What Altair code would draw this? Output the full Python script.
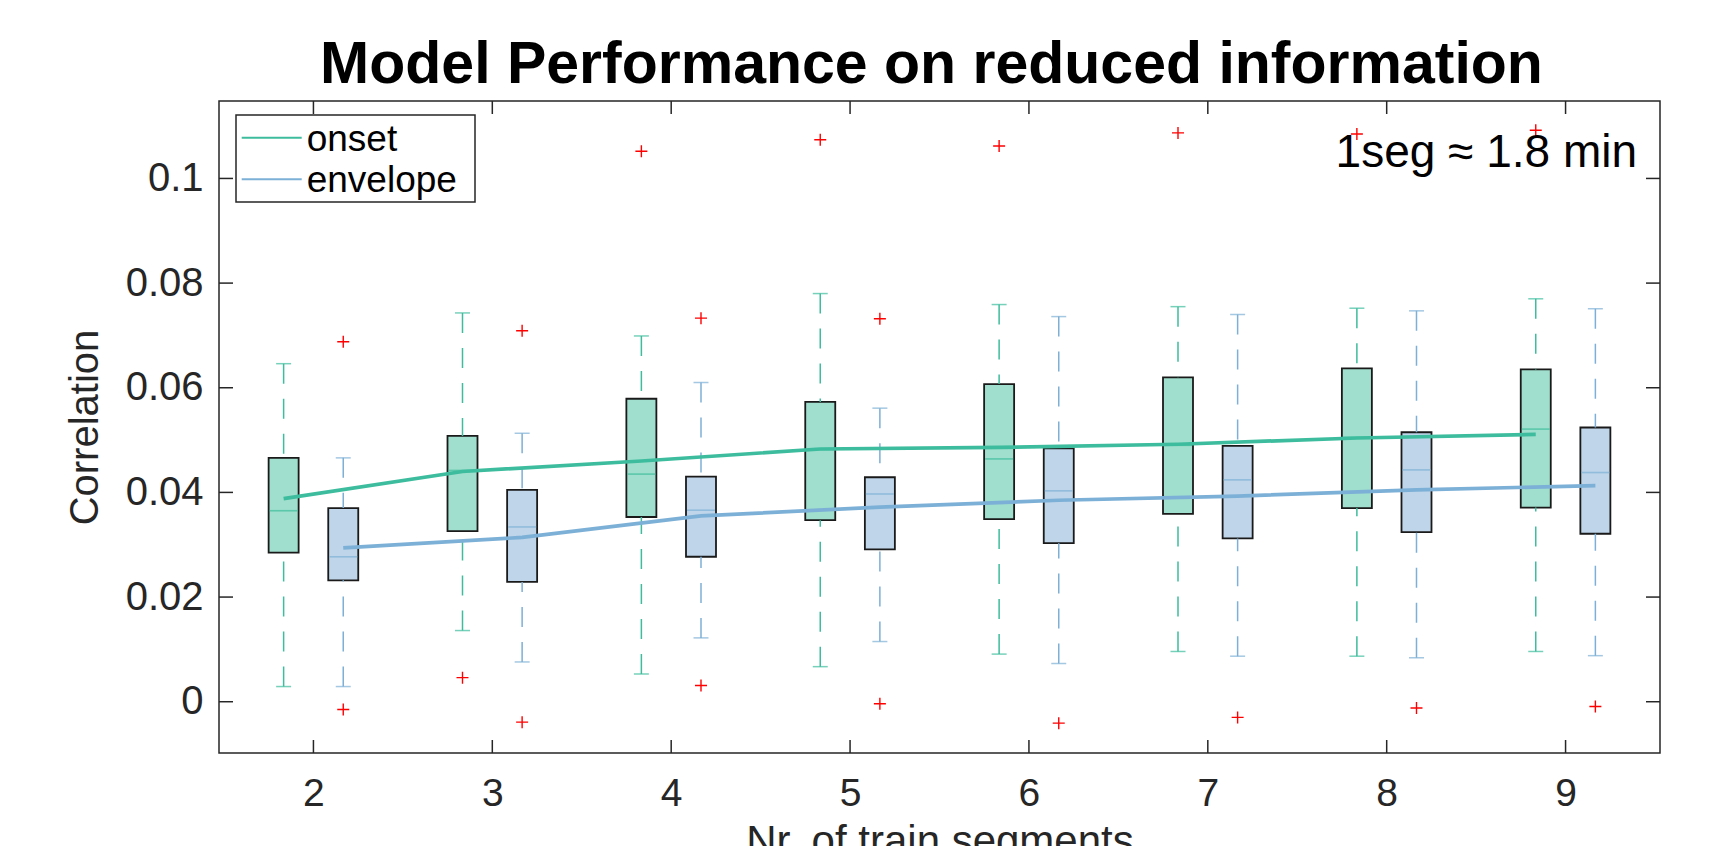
import altair as alt
import pandas as pd

# ---------------- data ----------------
segments = [2, 3, 4, 5, 6, 7, 8, 9]
series_names = ["onset", "envelope"]

onset_upper = [0.0646, 0.0743, 0.0699, 0.0780, 0.0759, 0.0755, 0.0752, 0.0770]
onset_q3 = [0.0466, 0.0508, 0.0579, 0.0573, 0.0607, 0.0620, 0.0637, 0.0635]
onset_median = [0.0365, 0.0442, 0.0435, 0.0482, 0.0464, 0.0490, 0.0505, 0.0521]
onset_q1 = [0.0285, 0.0326, 0.0353, 0.0347, 0.0349, 0.0359, 0.0370, 0.0371]
onset_lower = [0.0029, 0.0136, 0.0053, 0.0067, 0.0091, 0.0096, 0.0087, 0.0096]
onset_mean = [0.0388, 0.0440, 0.0460, 0.0483, 0.0486, 0.0492, 0.0504, 0.0511]

env_upper = [0.0466, 0.0513, 0.0610, 0.0561, 0.0736, 0.0740, 0.0747, 0.0751]
env_q3 = [0.0370, 0.0405, 0.0430, 0.0429, 0.0484, 0.0489, 0.0515, 0.0524]
env_median = [0.0277, 0.0334, 0.0366, 0.0397, 0.0403, 0.0424, 0.0443, 0.0438]
env_q1 = [0.0232, 0.0229, 0.0277, 0.0291, 0.0303, 0.0312, 0.0324, 0.0321]
env_lower = [0.0029, 0.0076, 0.0122, 0.0115, 0.0073, 0.0087, 0.0084, 0.0088]
env_mean = [0.0294, 0.0314, 0.0355, 0.0372, 0.0385, 0.0393, 0.0405, 0.0413]

outlier_series = ["onset", "onset", "onset", "onset", "onset", "onset", "onset",
                  "envelope", "envelope", "envelope", "envelope",
                  "envelope", "envelope", "envelope", "envelope", "envelope",
                  "envelope", "envelope", "envelope"]
outlier_seg = [4, 5, 6, 7, 8, 9, 3,
               2, 3, 4, 5,
               2, 3, 4, 5, 6,
               7, 8, 9]
outlier_val = [0.1052, 0.1074, 0.1062, 0.1087, 0.1085, 0.1092, 0.0046,
               0.0688, 0.0709, 0.0733, 0.0732,
               -0.0015, -0.0039, 0.0031, -0.0004, -0.0041,
               -0.0030, -0.0012, -0.0009]

y_ticks = [0, 0.02, 0.04, 0.06, 0.08, 0.1]
title_text = ["Model Performance on reduced information"]
annotation = ["1seg \u2248 1.8 min"]

# ---------------- tables ----------------
offsets = {"onset": -1 / 6, "envelope": 1 / 6}
stats = {
    "onset": (onset_upper, onset_q3, onset_median, onset_q1, onset_lower, onset_mean),
    "envelope": (env_upper, env_q3, env_median, env_q1, env_lower, env_mean),
}
rows = []
for name in series_names:
    up, q3, med, q1, lo, mean = stats[name]
    for i, s in enumerate(segments):
        rows.append(dict(series=name, seg=s, pos=s + offsets[name], upper=up[i], q3=q3[i],
                         median=med[i], q1=q1[i], lower=lo[i], mean=mean[i]))
df = pd.DataFrame(rows)

out_df = pd.DataFrame({"series": outlier_series, "seg": outlier_seg, "val": outlier_val})
out_df["pos"] = out_df["seg"] + out_df["series"].map(offsets)

ytick_df = pd.DataFrame({"v": y_ticks})
xtick_df = pd.DataFrame({"v": segments})
ann_df = pd.DataFrame({"t": annotation})
title_df = pd.DataFrame({"t": title_text})
legend_df = pd.DataFrame({"series": series_names})

# ---------------- styling ----------------
W, H = 1441, 652
FONT = "Liberation Sans"
AX = "#262626"
line_colors = ["#3dbd9d", "#7db0d6"]
fill_colors = ["#a0dfcd", "#bed5ea"]

xs = alt.Scale(domain=[1.5, 9.5], nice=False, zero=False)
ys = alt.Scale(domain=[-0.0098, 0.1148], nice=False, zero=False)
lc = alt.Scale(domain=series_names, range=line_colors)
fc = alt.Scale(domain=series_names, range=fill_colors)

x_axis = alt.Axis(values=segments, format="d", ticks=False, domain=False, grid=False,
                  labelFontSize=39, labelFont=FONT, labelColor=AX, labelPadding=21,
                  labelAngle=0,
                  title="Nr. of train segments", titleFontSize=42, titleFont=FONT,
                  titleFontWeight="normal", titleColor=AX, titleX=W / 2, titleY=101,
                  titleAlign="center", titleBaseline="alphabetic")
y_axis = alt.Axis(values=y_ticks, format="~g", ticks=False, domain=False, grid=False,
                  labelFontSize=40, labelFont=FONT, labelColor=AX, labelPadding=16,
                  title="Correlation", titleFontSize=40, titleFont=FONT,
                  titleFontWeight="normal", titleColor=AX, titleAngle=270,
                  titleX=-134, titleY=H / 2, titleAlign="center", titleBaseline="middle")


def X(field):
    return alt.X(field, scale=xs, axis=x_axis, title="Nr. of train segments")


def Y(field):
    return alt.Y(field, scale=ys, axis=y_axis, title="Correlation")


col = alt.Color("series:N", scale=lc, legend=None)

base = alt.Chart(df)

boxes = base.mark_bar(size=30, stroke="#1a1a1a", strokeWidth=1.8).encode(
    x=X("pos:Q"), y=Y("q1:Q"), y2="q3:Q",
    fill=alt.Fill("series:N", scale=fc, legend=None))

whisk_up = base.mark_rule(strokeWidth=1.5, strokeDash=[20, 15]).encode(
    x=X("pos:Q"), y=Y("upper:Q"), y2="q3:Q", color=col)
whisk_lo = base.mark_rule(strokeWidth=1.5, strokeDash=[20, 15]).encode(
    x=X("pos:Q"), y=Y("lower:Q"), y2="q1:Q", color=col)
cap_up = base.mark_tick(orient="horizontal", size=15, thickness=1.5).encode(
    x=X("pos:Q"), y=Y("upper:Q"), color=col)
cap_lo = base.mark_tick(orient="horizontal", size=15, thickness=1.5).encode(
    x=X("pos:Q"), y=Y("lower:Q"), color=col)

medians = base.mark_tick(orient="horizontal", size=28, thickness=1.6).encode(
    x=X("pos:Q"), y=Y("median:Q"), color=col)

means = base.mark_line(strokeWidth=3.7).encode(
    x=X("pos:Q"), y=Y("mean:Q"), color=col)

outliers = alt.Chart(out_df).mark_point(
    shape="M-1,0H1M0,-1V1", size=144, color="#ff0000", filled=False,
    strokeWidth=1.4, opacity=1).encode(x=X("pos:Q"), y=Y("val:Q"))

tick_l = alt.Chart(ytick_df).mark_rule(color=AX, strokeWidth=1.5).encode(
    y=Y("v:Q"), x=alt.value(0), x2=alt.value(14))
tick_r = alt.Chart(ytick_df).mark_rule(color=AX, strokeWidth=1.5).encode(
    y=Y("v:Q"), x=alt.value(W - 14), x2=alt.value(W))
tick_b = alt.Chart(xtick_df).mark_rule(color=AX, strokeWidth=1.5).encode(
    x=X("v:Q"), y=alt.value(H - 13), y2=alt.value(H))
tick_t = alt.Chart(xtick_df).mark_rule(color=AX, strokeWidth=1.5).encode(
    x=X("v:Q"), y=alt.value(0), y2=alt.value(13))

ann = alt.Chart(ann_df).mark_text(align="right", baseline="alphabetic", fontSize=46,
                                  font=FONT, color="black").encode(
    x=alt.value(1418), y=alt.value(66), text="t:N")

title = alt.Chart(title_df).mark_text(align="center", baseline="alphabetic", fontSize=59,
                                      font=FONT, fontWeight="bold", color="black").encode(
    x=alt.value(W / 2 - 8), y=alt.value(-18), text="t:N")

# ---- legend box (drawn with marks, like MATLAB's legend) ----
leg_frame = alt.Chart(legend_df.head(1)).mark_rect(
    fill="white", stroke=AX, strokeWidth=1.5).encode(
    x=alt.value(17), x2=alt.value(256), y=alt.value(14), y2=alt.value(101))
leg_layers = [leg_frame]
for i, name in enumerate(series_names):
    yy = 36.7 + i * 41.6
    sub = alt.Chart(legend_df).transform_filter(alt.datum.series == name)
    leg_layers.append(sub.mark_rule(strokeWidth=2).encode(
        x=alt.value(22.7), x2=alt.value(82.7), y=alt.value(yy), color=col))
    leg_layers.append(sub.mark_text(align="left", baseline="middle", fontSize=37,
                                    font=FONT, color="black").encode(
        x=alt.value(87.7), y=alt.value(yy + 2), text="series:N"))

chart = alt.layer(
    boxes, whisk_up, whisk_lo, cap_up, cap_lo, medians, means, outliers,
    tick_l, tick_r, tick_b, tick_t, ann, title, *leg_layers
).properties(
    width=W, height=H,
    autosize=alt.AutoSizeParams(type="none"),
    padding={"left": 211, "top": 93, "right": 40, "bottom": 110},
    background="white",
).configure_view(stroke=AX, strokeWidth=1.5)

chart.save("out.html", embed_options={"renderer": "svg", "actions": False})
